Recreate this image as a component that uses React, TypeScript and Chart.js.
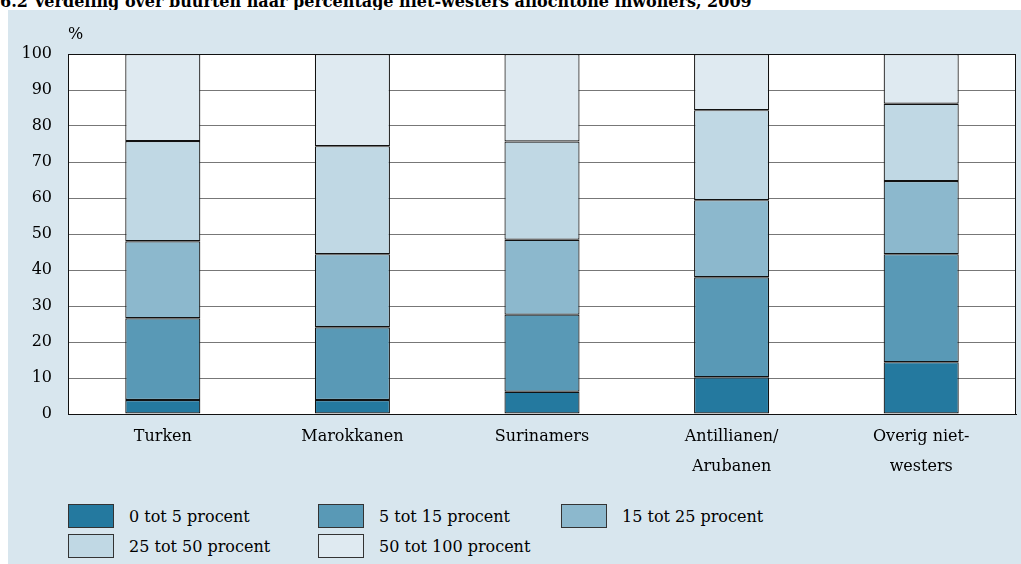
import React, { useEffect, useRef } from "react";
import { Chart, registerables } from "chart.js";

Chart.register(...registerables);

const title = "6.2 Verdeling over buurten naar percentage niet-westers allochtone inwoners, 2009";
const categories: string[][] = [
  ["Turken"],
  ["Marokkanen"],
  ["Surinamers"],
  ["Antillianen/", "Arubanen"],
  ["Overig niet-", "westers"],
];
const seriesLabels = [
  "0 tot 5 procent",
  "5 tot 15 procent",
  "15 tot 25 procent",
  "25 tot 50 procent",
  "50 tot 100 procent",
];
const share0to5 = [3.9, 3.9, 6.2, 10.2, 14.4];
const share5to15 = [22.7, 20.2, 21.4, 27.8, 30.0];
const share15to25 = [21.4, 20.3, 20.8, 21.4, 20.3];
const share25to50 = [27.8, 30.0, 27.3, 25.0, 21.5];
const share50to100 = [24.2, 25.6, 24.3, 15.6, 13.8];
const seriesColors = ["#24799f", "#5999b6", "#8cb8cd", "#c0d8e4", "#dfeaf1"];
const yTicks = [0, 10, 20, 30, 40, 50, 60, 70, 80, 90, 100];

const FONT = "'DejaVu Serif', serif";

export default function App() {
  const ref = useRef<HTMLCanvasElement | null>(null);

  useEffect(() => {
    if (!ref.current) return;
    const seriesValues = [share0to5, share5to15, share15to25, share25to50, share50to100];
    const areaPlugin = {
      id: "areaPlugin",
      beforeDraw(chart: any) {
        const { ctx, chartArea } = chart;
        ctx.save();
        ctx.fillStyle = "#ffffff";
        ctx.fillRect(chartArea.left, chartArea.top, chartArea.right - chartArea.left, chartArea.bottom - chartArea.top);
        ctx.restore();
      },
      afterDraw(chart: any) {
        const { ctx, chartArea } = chart;
        ctx.save();
        ctx.strokeStyle = "#111";
        ctx.lineWidth = 1;
        ctx.strokeRect(
          Math.round(chartArea.left) + 0.5,
          Math.round(chartArea.top) + 0.5,
          Math.round(chartArea.right - chartArea.left) - 1,
          Math.round(chartArea.bottom - chartArea.top)
        );
        ctx.restore();
      },
    };
    const chart = new Chart(ref.current, {
      type: "bar",
      data: {
        labels: categories,
        datasets: seriesValues.map((vals, i) => ({
          label: seriesLabels[i],
          data: vals,
          backgroundColor: seriesColors[i],
          borderColor: "#111",
          borderWidth: 1.2,
          borderSkipped: false,
          categoryPercentage: 1,
          barPercentage: 0.396,
        })),
      },
      options: {
        responsive: false,
        animation: false,
        devicePixelRatio: 1,
        layout: { padding: { top: 44, right: 5, left: 0, bottom: 0 } },
        plugins: {
          legend: { display: false },
          title: { display: false },
          tooltip: { enabled: false },
        },
        scales: {
          x: {
            stacked: true,
            grid: { display: false, drawTicks: false },
            border: { display: true, color: "#111", width: 1 },
            ticks: {
              color: "#000",
              font: { family: FONT, size: 16, lineHeight: 1.875 },
              padding: 8,
              maxRotation: 0,
              autoSkip: false,
            },
            afterFit(scale: any) {
              scale.height = 86;
            },
          },
          y: {
            stacked: true,
            min: 0,
            max: 100,
            afterBuildTicks(scale: any) {
              scale.ticks = yTicks.map((v) => ({ value: v }));
            },
            grid: {
              drawTicks: false,
              color: (c: any) => (c.tick && (c.tick.value === 0 || c.tick.value === 100) ? "#111" : "#777"),
              lineWidth: 1,
            },
            border: { display: true, color: "#111", width: 1 },
            ticks: {
              color: "#000",
              font: { family: FONT, size: 16 },
              padding: 16,
            },
            afterFit(scale: any) {
              scale.width = 60;
            },
          },
        },
      },
      plugins: [areaPlugin],
    });
    return () => chart.destroy();
  }, []);

  const legendPos = [
    { left: 68, top: 504 },
    { left: 318, top: 504 },
    { left: 561, top: 504 },
    { left: 68, top: 534 },
    { left: 318, top: 534 },
  ];

  return (
    <div style={{ position: "relative", width: 1021, height: 564, overflow: "hidden", background: "#fff" }}>
      <style>{"body{margin:0}"}</style>
      <div
        style={{
          position: "absolute",
          left: 0,
          top: -6,
          font: `bold 16px ${FONT}`,
          lineHeight: "15px",
          whiteSpace: "nowrap",
          color: "#000",
        }}
      >
        {title}
      </div>
      <div
        style={{
          position: "absolute",
          left: 8,
          top: 10,
          width: 1030,
          height: 560,
          background: "#d8e6ee",
        }}
      >
        <canvas ref={ref} width={1013} height={490} style={{ position: "absolute", left: 0, top: 0 }} />
        <div
          style={{
            position: "absolute",
            left: 60,
            top: 15,
            font: `16px ${FONT}`,
            lineHeight: "18px",
            color: "#000",
          }}
        >
          %
        </div>
      </div>
      {seriesLabels.map((lab, i) => (
        <div key={lab}>
          <div
            style={{
              position: "absolute",
              left: legendPos[i].left,
              top: legendPos[i].top,
              width: 46,
              height: 24,
              boxSizing: "border-box",
              border: "1px solid #333",
              background: seriesColors[i],
            }}
          />
          <div
            style={{
              position: "absolute",
              left: legendPos[i].left + 61,
              top: legendPos[i].top + 3,
              font: `16px ${FONT}`,
              lineHeight: "20px",
              color: "#000",
              whiteSpace: "nowrap",
            }}
          >
            {lab}
          </div>
        </div>
      ))}
    </div>
  );
}
